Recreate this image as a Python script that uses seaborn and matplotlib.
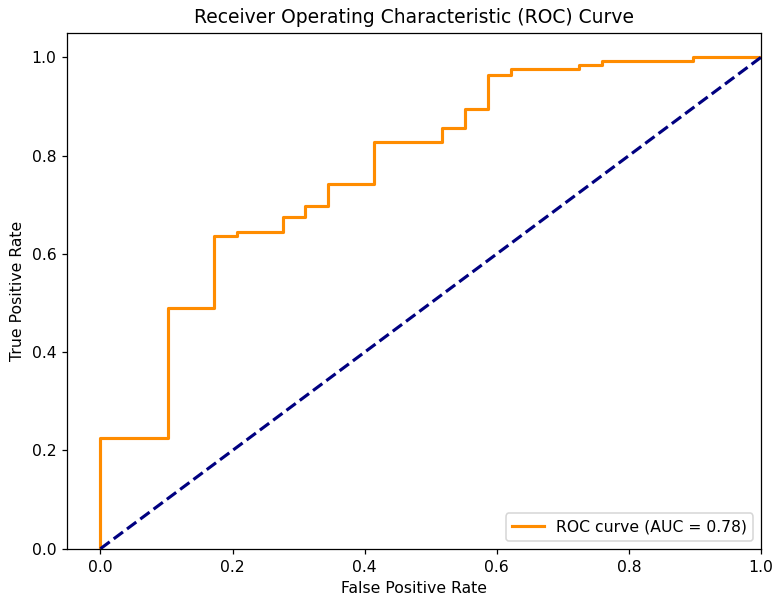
import pandas as pd
import matplotlib
matplotlib.use("Agg")
import matplotlib.pyplot as plt
import seaborn as sns

# ROC corner points
fpr = [0.0, 0.0, 0.103, 0.103, 0.172, 0.172, 0.207, 0.207, 0.276, 0.276,
       0.310, 0.310, 0.345, 0.345, 0.414, 0.414, 0.517, 0.517, 0.552, 0.552,
       0.586, 0.586, 0.621, 0.621, 0.724, 0.724, 0.759, 0.759, 0.897, 0.897, 1.0]
tpr = [0.0, 0.226, 0.226, 0.490, 0.490, 0.636, 0.636, 0.644, 0.644, 0.674,
       0.674, 0.697, 0.697, 0.742, 0.742, 0.827, 0.827, 0.857, 0.857, 0.895,
       0.895, 0.964, 0.964, 0.977, 0.977, 0.985, 0.985, 0.992, 0.992, 1.0, 1.0]
roc_auc = 0.78

roc_df = pd.DataFrame({"fpr": fpr, "tpr": tpr})
diag_df = pd.DataFrame({"x": [0, 1], "y": [0, 1]})

# the reference is drawn a little larger than 100 dpi, so scale everything up
DPI = 112.5
fig, ax = plt.subplots(figsize=(779 / DPI, 605 / DPI), dpi=DPI)
fig.subplots_adjust(left=0.0865, right=0.977, top=0.946, bottom=0.093)

sns.lineplot(data=roc_df, x="fpr", y="tpr", sort=False, estimator=None,
             color="darkorange", lw=2, label=f"ROC curve (AUC = {roc_auc:.2f})", ax=ax)
sns.lineplot(data=diag_df, x="x", y="y", sort=False, estimator=None,
             color="navy", lw=2, linestyle="--", ax=ax)

ax.set_xlim(-0.05, 1.0)
ax.set_ylim(0.0, 1.05)
ax.set_xlabel("False Positive Rate")
ax.set_ylabel("True Positive Rate")
ax.set_title("Receiver Operating Characteristic (ROC) Curve")
ax.legend(loc="lower right")

fig.savefig("out.png", dpi=DPI)
